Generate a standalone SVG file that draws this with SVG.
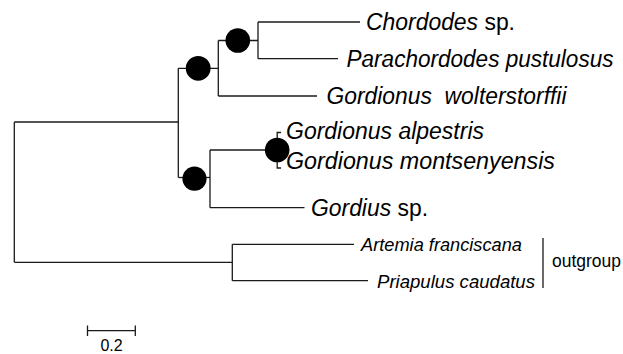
<svg xmlns="http://www.w3.org/2000/svg" width="623" height="354" viewBox="0 0 623 354">
<style>
.br{fill:none;stroke:#1a1a1a;stroke-width:1.3}
.nd{fill:#000}
.lb{font-family:"Liberation Sans",Arial,sans-serif;font-size:23px;fill:#000;font-style:italic}
.sm{font-family:"Liberation Sans",Arial,sans-serif;font-size:18px;fill:#000;font-style:italic}
.up{font-style:normal}
</style>
<rect width="623" height="354" fill="#fff"/>
<g id="connectors" class="br">
<path d="M14.3,122 V262.3"/>
<path d="M14.3,122 H178.3"/>
<path d="M178.3,68.3 V177.5"/>
<path d="M178.3,68.3 H218.3"/>
<path d="M218.3,40.5 V96"/>
<path d="M218.3,40.5 H258"/>
<path d="M258,22 V58.7"/>
<path d="M258,22 H360"/>
<path d="M258,58.7 H338"/>
<path d="M218.3,96 H317"/>
<path d="M178.3,177.5 H210"/>
<path d="M210,150 V207.7"/>
<path d="M210,150 H277.2"/>
<path d="M281,132.5 H277.2 V168 H281"/>
<path d="M210,207.7 H304.5"/>
<path d="M14.3,262.3 H232.3"/>
<path d="M232.3,244.3 V280.7"/>
<path d="M232.3,244.3 H354"/>
<path d="M232.3,280.7 H368"/>
</g>
<g id="n-root-ingroup"><circle class="nd" cx="198.2" cy="68.3" r="12.4"/></g>
<g id="n-chordodid"><circle class="nd" cx="237.8" cy="40.5" r="12.3"/></g>
<g id="n-gordionus"><circle class="nd" cx="277.2" cy="150" r="12.3"/></g>
<g id="n-gordiid"><circle class="nd" cx="194.5" cy="178.7" r="12.1"/></g>
<g id="t-chordodes"><text class="lb" x="366" y="29.5" textLength="149" lengthAdjust="spacingAndGlyphs">Chordodes<tspan class="up"> sp.</tspan></text></g>
<g id="t-parachordodes"><text class="lb" x="346.5" y="66.5" textLength="267" lengthAdjust="spacingAndGlyphs">Parachordodes pustulosus</text></g>
<g id="t-wolterstorffii"><text class="lb" x="326.5" y="104" textLength="240" lengthAdjust="spacingAndGlyphs" xml:space="preserve">Gordionus  wolterstorffii</text></g>
<g id="t-alpestris"><text class="lb" x="286" y="138.5" textLength="198" lengthAdjust="spacingAndGlyphs">Gordionus alpestris</text></g>
<g id="t-montsenyensis"><text class="lb" x="286" y="169" textLength="269" lengthAdjust="spacingAndGlyphs">Gordionus montsenyensis</text></g>
<g id="t-gordius"><text class="lb" x="311" y="216" textLength="117" lengthAdjust="spacingAndGlyphs">Gordius<tspan class="up"> sp.</tspan></text></g>
<g id="t-artemia"><text class="sm" x="361" y="251" textLength="161" lengthAdjust="spacingAndGlyphs">Artemia franciscana</text></g>
<g id="t-priapulus"><text class="sm" x="377" y="287.5" textLength="158" lengthAdjust="spacingAndGlyphs">Priapulus caudatus</text></g>
<g id="outgroup">
<path class="br" d="M543,238 V288"/>
<text class="sm up" x="552" y="267" textLength="69" lengthAdjust="spacingAndGlyphs">outgroup</text>
</g>
<g id="scale">
<path class="br" d="M87.5,330.7 H135.3 M87.5,325.5 V336 M135.3,325.5 V336"/>
<text class="sm up" x="111.5" y="350.5" text-anchor="middle" style="font-size:16px">0.2</text>
</g>
</svg>
